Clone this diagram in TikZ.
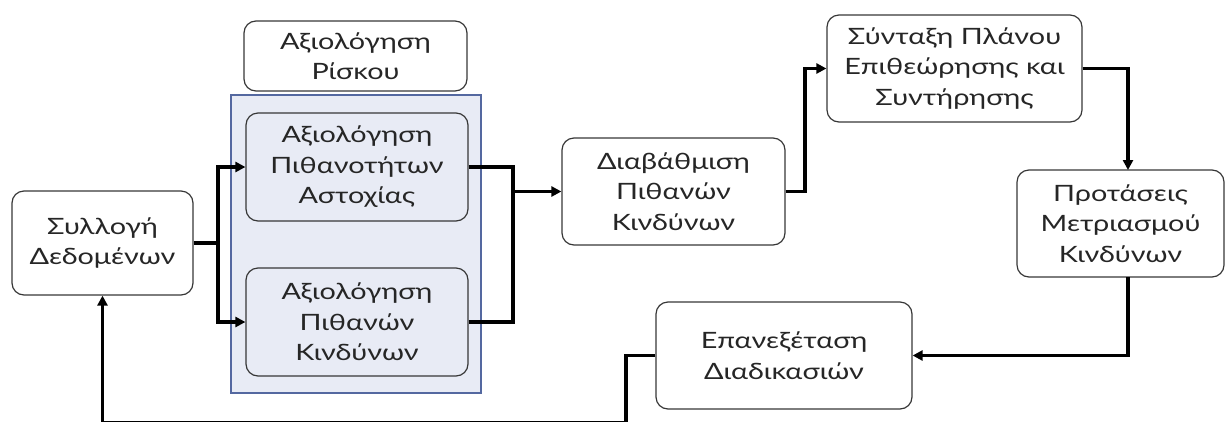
\documentclass[tikz,border=0pt]{standalone}
\usepackage{fontspec}
\setmainfont[FakeStretch=1.28]{Lato}
\usetikzlibrary{arrows.meta}
\definecolor{boxline}{RGB}{55,55,55}
\definecolor{txt}{RGB}{38,38,38}
\definecolor{groupfill}{RGB}{232,235,245}
\definecolor{groupline}{RGB}{84,104,160}
\begin{document}
\begin{tikzpicture}[x=1pt,y=-1pt,
  box/.style={draw=boxline, line width=1.2pt, rounded corners=12pt, align=center,
    font=\fontsize{22.5}{30.5}\selectfont, text=txt, inner sep=0pt},
  link/.style={line width=3.2pt},
  flow/.style={line width=3.2pt, -{Triangle[length=10pt,width=10pt]}}]
\useasboundingbox (0,0) rectangle (1226,421);

% risk assessment group
\node[fill=groupfill, draw=groupline, line width=1.2pt, minimum width=250pt,
  minimum height=298pt, inner sep=0pt] (group) at (356,244) {};
\node[box, minimum width=223pt, minimum height=70pt] (risk) at (355.5,56) {Αξιολόγηση\\Ρίσκου};

\node[box, minimum width=181pt, minimum height=104pt] (coll) at (102.5,243) {Συλλογή\\Δεδομένων};
\node[box, minimum width=222pt, minimum height=108pt] (fail) at (357,167) {Αξιολόγηση\\Πιθανοτήτων\\Αστοχίας};
\node[box, minimum width=222pt, minimum height=108pt] (haz) at (357,322) {Αξιολόγηση\\Πιθανών\\Κινδύνων};
\node[box, minimum width=223pt, minimum height=107pt] (rank) at (673.5,191.5) {Διαβάθμιση\\Πιθανών\\Κινδύνων};
\node[box, minimum width=255pt, minimum height=107pt] (plan) at (954.5,68.5) {Σύνταξη Πλάνου\\Επιθεώρησης και\\Συντήρησης};
\node[box, minimum width=207pt, minimum height=107pt] (mitig) at (1120.5,223.5) {Προτάσεις\\Μετριασμού\\Κινδύνων};
\node[box, minimum width=256pt, minimum height=107pt] (review) at (784,355.5) {Επανεξέταση\\Διαδικασιών};

% junctions and bends
\coordinate (split) at (218,243);
\coordinate (merge) at (513,191.5);
\coordinate (k1) at (805,191.5);
\coordinate (k2) at (1128,170);
\coordinate (k3) at (1128,277);
\coordinate (k4) at (626,422.8);

% connectors
\draw[link] (coll.east) -- (split);
\draw[flow] (split) |- (fail.west);
\draw[flow] (split) |- (haz.west);
\draw[link] (fail.east) -| (merge);
\draw[link] (haz.east) -| (merge);
\draw[flow] (merge) -- (rank.west);
\draw[flow] (rank.east) -- (k1) |- (plan.west);
\draw[flow] (plan.east) -| (k2);
\draw[flow] (k3) |- (review.east);
\draw[flow] (review.west) -| (k4) -| (coll.south);
\end{tikzpicture}
\end{document}
